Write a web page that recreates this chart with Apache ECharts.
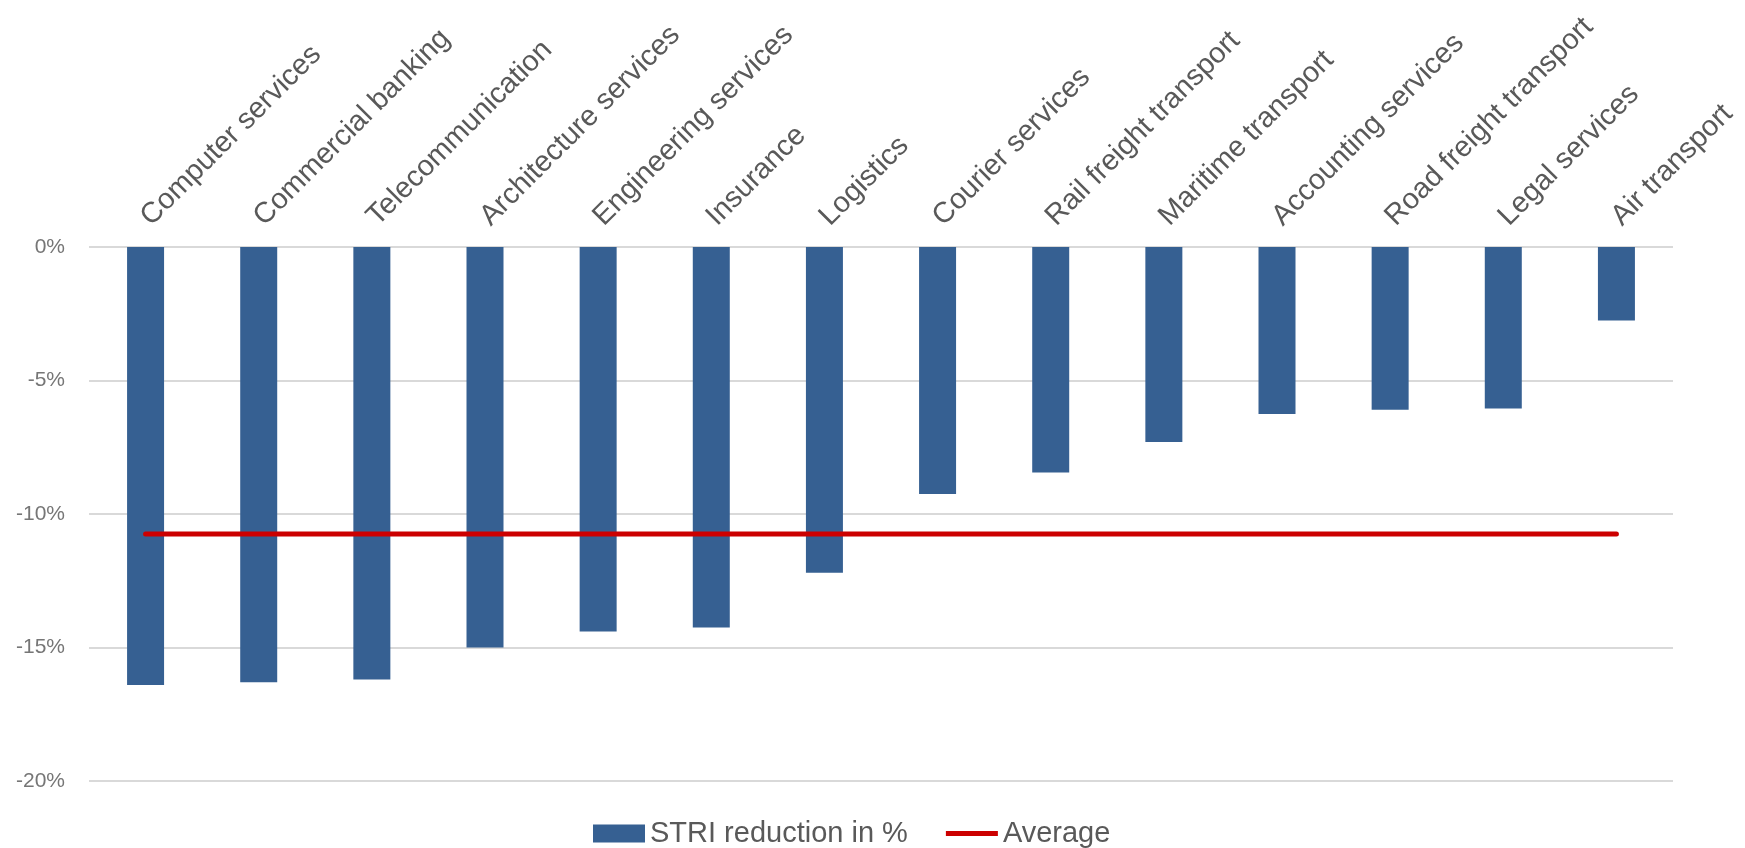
<!DOCTYPE html>
<html>
<head>
<meta charset="utf-8">
<script src="https://cdn.jsdelivr.net/npm/echarts@6/dist/echarts.min.js"></script>
<style>
  html, body { margin: 0; padding: 0; background: #fff; }
  #chart { width: 1745px; height: 848px; }
</style>
</head>
<body>
<div id="chart"></div>
<script>
const sectors = ['Computer services', 'Commercial banking', 'Telecommunication', 'Architecture services',
    'Engineering services', 'Insurance', 'Logistics', 'Courier services', 'Rail freight transport',
    'Maritime transport', 'Accounting services', 'Road freight transport', 'Legal services', 'Air transport'];
const reduction = [-16.4, -16.3, -16.2, -15.0, -14.4, -14.25, -12.2, -9.25, -8.45, -7.3, -6.25, -6.1, -6.05, -2.75];
const average = [-10.75, -10.75, -10.75, -10.75, -10.75, -10.75, -10.75, -10.75, -10.75, -10.75, -10.75, -10.75, -10.75, -10.75];
const yTicks = [0, -5, -10, -15, -20];

const font = '"Liberation Sans", Arial, sans-serif';

const chart = echarts.init(document.getElementById('chart'));
chart.setOption({
    animation: false,
    textStyle: { fontFamily: font },
    grid: { left: 89, right: 72, top: 247, bottom: 67, containLabel: false },
    legend: {
        top: 814,
        left: 588,
        itemWidth: 52,
        itemHeight: 18,
        itemGap: 38,
        symbolKeepAspect: true,
        textStyle: { fontSize: 29, color: '#595959', fontFamily: font },
        data: [
            { name: 'STRI reduction in %', icon: 'rect' },
            { name: 'Average', icon: 'path://M0,0H100V10H0Z' }
        ]
    },
    xAxis: {
        type: 'category',
        position: 'top',
        data: sectors,
        axisLine: { show: false },
        axisTick: { show: false },
        axisLabel: {
            rotate: 45,
            interval: 0,
            margin: 26,
            fontSize: 29,
            color: '#595959',
            fontFamily: font
        }
    },
    yAxis: {
        type: 'value',
        min: yTicks[yTicks.length - 1],
        max: yTicks[0],
        interval: 5,
        axisLine: { show: false },
        axisTick: { show: false },
        axisLabel: {
            formatter: '{value}%',
            fontSize: 21,
            color: '#767676',
            margin: 24,
            fontFamily: font
        },
        splitLine: { lineStyle: { color: '#d9d9d9', width: 2 } }
    },
    series: [
        {
            name: 'STRI reduction in %',
            type: 'bar',
            data: reduction,
            barWidth: 37,
            itemStyle: { color: '#366092' }
        },
        {
            name: 'Average',
            type: 'line',
            data: average,
            symbol: 'none',
            lineStyle: { color: '#cc0000', width: 5, cap: 'round' },
            itemStyle: { color: '#cc0000' },
            z: 5
        }
    ]
});
</script>
</body>
</html>
